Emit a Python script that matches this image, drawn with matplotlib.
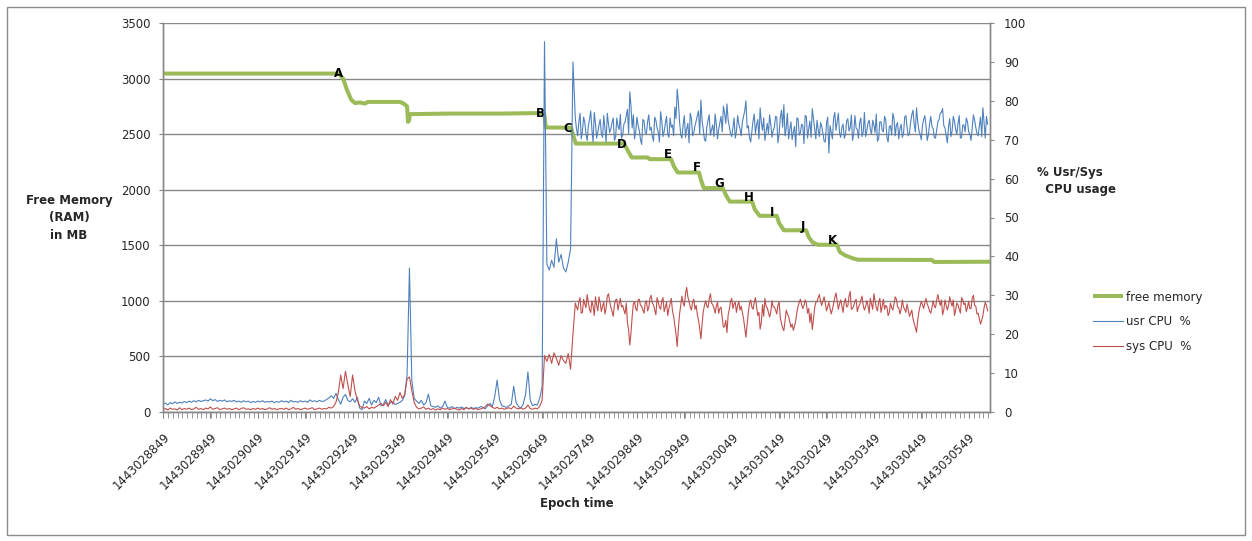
import numpy as np
import matplotlib
matplotlib.use("Agg")
import matplotlib.pyplot as plt
from matplotlib.patches import Rectangle
from matplotlib.ticker import FixedLocator, MultipleLocator

# ---------------- data ----------------
T0 = 1443028849
T_END = 1443030594
tick_labels = ["1443028849", "1443028949", "1443029049", "1443029149", "1443029249",
               "1443029349", "1443029449", "1443029549", "1443029649", "1443029749",
               "1443029849", "1443029949", "1443030049", "1443030149", "1443030249",
               "1443030349", "1443030449", "1443030549"]

cpu_step = 5  # seconds between CPU samples

usr_cpu = [
    2.0,2.3,1.8,2.4,2.1,2.6,2.2,2.5,2.3,2.7,
    2.4,2.8,2.5,2.9,2.6,3.0,2.7,2.9,3.1,2.8,
    3.4,2.9,3.2,2.7,3.0,2.8,3.1,2.6,2.9,2.7,
    3.0,2.6,2.8,2.5,2.9,2.6,2.8,2.4,2.7,2.5,
    2.8,2.6,2.9,2.5,2.7,2.6,2.8,2.4,2.7,2.5,
    2.9,2.6,2.8,2.4,3.0,2.6,2.7,2.5,2.9,2.6,
    2.8,2.5,3.1,2.7,2.9,2.6,3.0,2.7,2.8,3.2,
    3.6,4.2,3.5,4.8,3.2,2.0,3.8,4.5,3.0,2.6,
    3.4,2.5,3.8,1.0,0.6,2.8,2.2,3.5,1.8,3.0,
    2.4,3.8,1.6,2.0,3.2,1.8,2.4,2.6,1.9,2.2,
    2.5,3.0,4.2,9.5,37.0,8.0,3.5,2.8,2.2,3.0,
    1.8,2.4,4.6,1.6,1.4,1.2,1.6,1.0,1.4,2.8,
    1.2,1.0,1.4,0.8,1.2,1.0,1.3,0.9,1.1,0.8,
    1.2,0.9,1.1,1.0,1.4,1.2,0.8,1.6,2.2,1.4,
    4.0,8.2,3.2,1.6,1.4,1.2,1.6,2.0,6.6,2.4,
    1.4,1.0,2.0,4.5,10.3,3.0,1.6,2.0,1.8,3.6,
    6.6,95.2,38.0,36.5,39.0,37.2,44.5,38.5,40.5,37.0,
    36.0,38.5,42.0,90.0,
    75.5,71.0,76.8,72.2,74.5,69.8,75.2,72.6,77.0,70.4,
    73.8,71.5,76.2,69.5,74.0,72.8,75.6,70.6,73.4,76.5,
    71.2,74.6,77.8,82.3,73.0,70.2,75.8,72.4,68.8,74.9,
    71.6,76.4,73.2,69.6,75.0,72.0,77.2,70.8,74.2,71.4,
    75.6,73.8,78.4,83.0,74.6,70.4,76.2,72.8,69.2,75.4,
    71.8,74.8,77.4,80.2,72.6,69.6,75.0,71.2,73.8,76.6,
    70.2,74.4,72.0,76.8,79.2,73.4,70.8,75.6,72.2,74.0,
    71.0,76.0,80.0,73.6,69.4,74.8,71.6,75.2,78.2,72.4,
    69.8,74.2,76.4,70.6,73.2,75.8,71.4,77.6,79.0,73.0,
    70.2,74.6,72.0,68.2,75.4,71.8,73.6,76.2,70.4,74.8,
    78.0,72.6,75.0,70.8,73.4,69.6,74.2,66.6,71.8,75.6,
    72.4,76.8,70.6,74.0,71.2,75.4,73.0,69.8,76.2,72.6,
    74.4,70.8,77.0,72.2,75.0,71.4,73.8,76.6,70.2,74.6,
    72.0,75.2,69.4,73.6,76.8,71.0,74.4,72.8,70.6,75.8,
    73.2,71.6,76.4,74.0,78.2,72.4,70.0,75.2,73.6,71.2,
    76.0,72.8,70.4,74.6,76.8,78.0,73.0,69.2,75.4,72.2,
    74.8,71.4,76.2,70.6,73.8,75.6,72.0,69.8,76.4,73.2,
    71.0,75.8,78.2,70.4,74.0,
]

sys_cpu = [
    0.6,0.9,0.5,1.0,0.7,0.8,0.5,1.1,0.6,0.9,
    0.7,1.0,0.6,0.8,1.2,0.7,0.9,0.6,1.0,0.8,
    1.3,0.7,0.9,1.1,0.6,0.8,1.0,0.7,0.9,0.6,
    0.8,1.0,0.6,0.9,1.1,0.7,0.8,0.6,0.9,0.7,
    1.0,0.7,0.9,0.6,0.8,1.1,0.7,0.9,0.6,0.8,
    0.9,0.7,1.0,0.6,0.8,1.2,0.7,0.9,0.6,0.8,
    1.0,0.7,0.9,1.1,0.6,0.8,1.0,0.7,0.9,0.8,
    1.2,1.0,1.4,2.5,5.0,9.5,6.0,10.5,7.0,4.0,
    9.5,5.5,3.0,1.5,1.2,1.0,1.4,0.8,1.2,1.0,
    1.4,1.8,2.2,1.6,2.5,1.4,3.2,2.0,4.0,3.0,
    5.0,3.5,4.5,8.5,9.0,5.5,2.5,1.2,0.8,1.0,
    1.3,0.7,1.0,0.6,0.9,0.5,0.8,0.6,1.0,0.7,
    0.9,0.6,0.8,1.0,0.7,0.5,0.9,0.6,1.2,0.8,
    1.0,0.7,0.9,0.6,0.8,1.0,1.4,2.0,1.6,1.2,
    0.9,1.2,0.8,1.0,0.7,0.9,1.1,0.8,1.5,1.0,
    0.8,1.1,0.7,1.0,1.8,0.9,0.7,1.0,0.8,1.5,
    3.0,14.5,13.0,14.8,12.5,15.2,13.8,12.0,14.5,13.2,
    12.5,15.0,11.0,20.0,
    28.0,26.2,29.4,25.6,27.8,30.2,26.4,28.6,24.8,27.4,
    29.6,25.8,28.2,26.6,30.4,27.0,24.6,28.8,26.2,29.2,
    27.4,25.2,23.0,17.2,24.6,28.4,26.0,29.0,27.2,25.4,
    28.6,26.8,30.0,27.6,25.0,28.2,26.4,29.4,27.0,24.8,
    27.8,26.0,22.4,16.8,25.2,29.8,27.2,32.0,28.4,26.2,
    29.0,27.4,23.6,18.8,25.8,28.6,26.8,30.4,27.6,25.4,
    28.2,26.6,24.2,22.0,20.4,26.4,29.2,27.8,25.6,28.4,
    27.2,24.0,19.2,25.6,28.8,26.4,29.4,24.8,21.3,27.6,
    29.2,26.8,24.4,28.6,27.0,25.2,28.4,22.8,20.9,26.2,
    24.6,21.8,21.0,23.4,27.2,29.0,26.6,28.8,25.4,23.0,
    21.2,26.8,28.4,30.2,27.4,29.6,26.0,28.2,25.2,27.8,
    30.6,26.4,28.8,25.6,29.2,27.2,31.0,26.6,28.4,25.8,
    27.6,29.8,26.2,28.6,25.4,27.8,30.4,26.8,28.2,25.6,
    29.0,27.4,24.8,28.0,26.2,29.6,27.0,25.2,28.8,26.4,
    27.8,24.6,26.2,22.8,20.5,25.8,28.4,26.6,29.2,27.0,
    25.4,28.6,26.8,30.2,27.4,25.0,28.8,26.2,29.6,27.2,
    24.8,28.0,26.4,29.4,27.6,25.8,28.4,26.6,30.0,27.2,
    25.4,22.6,24.8,28.2,26.0,
]

# extra half-step samples in the busy phase (sample 174 .. 347, +2.5 s)
mid_first = 174
usr_cpu_mid = [
    72.8,74.6,70.2,75.8,71.4,73.6,77.4,69.4,74.2,72.0,
    75.2,70.6,73.0,76.8,71.8,74.4,69.8,75.6,72.6,70.4,
    74.0,76.2,71.6,78.6,76.4,72.2,73.6,70.0,75.2,71.8,
    74.6,72.4,70.8,75.8,73.0,69.4,74.8,72.2,76.0,70.6,
    73.2,71.0,75.4,79.6,71.2,73.8,70.6,74.2,76.8,71.0,
    73.6,76.2,71.4,74.8,70.0,73.2,76.4,72.6,70.8,74.0,
    72.6,76.0,78.6,74.2,75.0,71.6,73.0,70.4,76.2,72.8,
    74.6,77.4,73.0,70.6,72.2,76.6,73.8,70.2,74.4,75.6,
    72.0,71.6,73.8,72.4,76.0,69.2,75.6,73.2,71.0,76.8,
    72.6,70.0,73.4,75.6,71.2,74.0,69.0,76.0,72.8,70.6,
    75.4,70.2,72.6,74.4,71.6,69.4,75.8,73.6,70.2,77.0,
    74.6,71.8,73.2,70.4,74.8,72.2,76.4,71.6,73.0,70.4,
    75.6,72.0,70.8,74.2,72.6,75.0,71.8,69.6,74.6,72.4,
    76.0,70.6,73.4,71.2,75.4,73.8,70.2,74.0,71.6,76.2,
    71.0,74.4,77.6,72.0,74.6,71.4,73.6,76.2,69.8,74.0,
    73.4,70.6,72.6,75.2,77.0,73.6,71.0,73.4,70.8,76.0,
    72.6,74.2,70.4,73.8,72.0,74.6,71.4,73.0,75.0,71.6,
    73.6,70.8,74.2,76.0,
]
sys_cpu_mid = [
    27.0,28.4,25.4,29.0,26.8,28.0,25.6,27.2,29.6,26.0,
    28.0,27.2,25.2,29.8,28.4,25.8,27.6,29.0,27.8,27.0,
    26.2,28.0,21.0,20.4,27.8,26.6,28.8,27.4,26.2,28.0,
    26.0,29.2,28.0,26.2,29.4,27.0,28.6,25.8,28.2,26.6,
    29.2,24.6,20.0,21.6,27.6,28.0,30.4,29.6,27.0,28.2,
    26.4,25.0,21.4,22.6,27.4,27.2,29.0,28.0,26.8,27.2,
    25.4,27.0,21.8,23.6,25.0,28.4,26.6,28.2,27.4,26.2,
    25.6,21.6,22.4,27.8,27.0,28.2,27.0,25.6,23.0,24.6,
    27.2,25.6,25.8,27.0,26.2,27.4,24.2,21.6,23.4,25.2,
    23.2,22.6,22.0,25.6,28.2,27.6,27.4,28.0,26.6,25.4,
    23.8,28.2,29.4,28.4,28.6,28.0,27.0,26.6,26.4,29.4,
    28.6,27.8,27.2,28.2,27.0,29.8,26.4,27.4,29.0,27.0,
    28.8,27.4,27.0,27.4,29.2,26.4,28.6,26.0,29.2,27.2,
    26.4,27.0,25.6,26.8,27.8,29.0,26.8,26.4,27.0,25.6,
    26.2,25.4,24.0,21.6,23.6,27.2,27.6,28.0,27.8,26.0,
    26.8,27.2,28.8,28.6,28.8,26.2,27.4,27.4,28.2,28.8,
    26.2,27.6,25.4,28.8,28.0,27.0,26.6,29.2,27.4,25.2,
    24.0,23.6,26.8,27.4,
]

# free memory: (seconds after T0, MB)
mem_offsets = [0, 371, 380, 388, 397, 405, 416, 426, 432, 500, 508, 515, 517, 519, 521,
               605, 711, 804, 808, 861, 867, 871, 973, 981, 989, 1023, 1027, 1072, 1078,
               1086, 1131, 1135, 1141, 1181, 1188, 1196, 1243, 1249, 1259, 1295, 1300,
               1310, 1357, 1363, 1371, 1382, 1422, 1428, 1439, 1454, 1466, 1622, 1627, 1745]
free_mem = [3045, 3045, 3000, 2900, 2810, 2780, 2785, 2775, 2790, 2790, 2775, 2750, 2610,
            2620, 2680, 2685, 2685, 2690, 2560, 2558, 2470, 2415, 2415, 2350, 2290, 2290,
            2275, 2275, 2210, 2155, 2155, 2090, 2015, 2015, 1950, 1893, 1893, 1820, 1765,
            1765, 1700, 1635, 1635, 1570, 1525, 1505, 1505, 1440, 1410, 1385, 1370, 1368,
            1350, 1352]

event_letters = ["A", "B", "C", "D", "E", "F", "G", "H", "I", "J", "K"]
event_offsets = [371, 797, 854, 968, 1065, 1126, 1173, 1236, 1285, 1350, 1413]
event_mem = [3042, 2682, 2547, 2403, 2318, 2197, 2052, 1931, 1798, 1671, 1546]

legend_labels = ["free memory", "usr CPU  %", "sys CPU  %"]

# ---------------- styling ----------------
GREEN = "#9BBB59"
BLUE = "#4F81BD"
RED = "#C0504D"
GRID = "#888888"
TXT = "#262626"
plt.rcParams["font.family"] = ["DejaVu Sans"]

W, H = 1252, 541
fig = plt.figure(figsize=(W / 100, H / 100), dpi=100)
L, R, TOP, BOT = 163, 990, 23, 412
ax = fig.add_axes([L / W, 1 - BOT / H, (R - L) / W, (BOT - TOP) / H])
ax2 = ax.twinx()

# merge the regular samples with the half-step samples
base_t = T0 + cpu_step * np.arange(len(usr_cpu), dtype=float)
mid_t = T0 + cpu_step * (mid_first + np.arange(len(usr_cpu_mid), dtype=float)) + cpu_step / 2
cpu_t = np.concatenate([base_t, mid_t])
order = np.argsort(cpu_t, kind="stable")
cpu_t = cpu_t[order]
usr_all = np.concatenate([usr_cpu, usr_cpu_mid])[order]
sys_all = np.concatenate([sys_cpu, sys_cpu_mid])[order]
mem_t = T0 + np.array(mem_offsets)

ax.set_ylim(0, 3500)
ax2.set_ylim(0, 100)

ax.yaxis.set_major_locator(MultipleLocator(500))
ax.grid(axis="y", color=GRID, lw=1.0)
ax.set_axisbelow(True)
l_mem, = ax.plot(mem_t, free_mem, color=GREEN, lw=2.9, solid_joinstyle="round",
                 solid_capstyle="butt", zorder=3)
for lab, off, m in zip(event_letters, event_offsets, event_mem):
    ax.text(T0 + off, m, lab, ha="center", va="center", fontsize=8.5,
            fontweight="bold", color="black", zorder=4)

l_usr, = ax2.plot(cpu_t, usr_all, color=BLUE, lw=0.8)
l_sys, = ax2.plot(cpu_t, sys_all, color=RED, lw=0.8)
ax2.yaxis.set_major_locator(MultipleLocator(10))

ticks = [int(s) for s in tick_labels]
ax.xaxis.set_major_locator(FixedLocator(ticks))
ax.xaxis.set_minor_locator(MultipleLocator(10))
ax.set_xticklabels(tick_labels, rotation=45, ha="right", rotation_mode="anchor",
                   fontsize=8.5, color=TXT)
ax.tick_params(axis="x", which="both", direction="out", length=4, color=GRID, pad=9)
ax.tick_params(axis="y", direction="out", length=3, color=GRID, labelsize=8.5,
               labelcolor=TXT, pad=6)
ax2.tick_params(axis="y", direction="out", length=3, color=GRID, labelsize=8.5,
                labelcolor=TXT, pad=7)
ax.set_xlim(T0, T_END)

for a in (ax, ax2):
    for s in a.spines.values():
        s.set_color(GRID)
        s.set_linewidth(1.0)
    a.spines["top"].set_visible(False)

fig.text(69 / W, 1 - 218 / H, "Free Memory\n(RAM)\nin MB", ha="center", va="center",
         fontsize=8.5, fontweight="bold", color=TXT, linespacing=1.45)
fig.text(1037 / W, 1 - 181 / H, "% Usr/Sys\n  CPU usage", ha="left", va="center",
         fontsize=8.5, fontweight="bold", color=TXT, linespacing=1.45)
fig.text(577 / W, 1 - 503 / H, "Epoch time", ha="center", va="center",
         fontsize=8.5, fontweight="bold", color=TXT)

fig.legend([l_mem, l_usr, l_sys], legend_labels, loc="upper left",
           bbox_to_anchor=(1082 / W, 1 - 280 / H), frameon=False, fontsize=8.5,
           handlelength=2.6, labelspacing=1.0, handletextpad=0.2, labelcolor=TXT)

fig.add_artist(Rectangle((7 / W, 1 - 535 / H), 1238 / W, 528 / H, transform=fig.transFigure,
                         fill=False, edgecolor="#8c8c8c", lw=1.0))

fig.savefig("out.png", dpi=100)
